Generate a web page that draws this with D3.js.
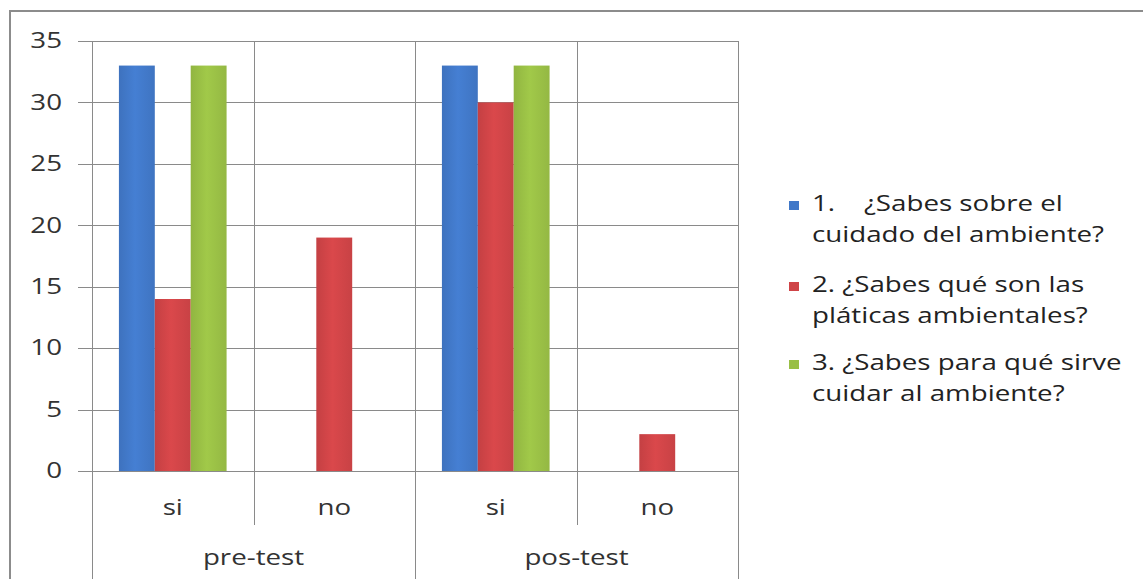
<!DOCTYPE html>
<html>
<head>
<meta charset="utf-8">
<script src="https://cdn.jsdelivr.net/npm/d3@7"></script>
<style>
  html, body { margin: 0; padding: 0; background: #fff; }
  svg { display: block; }
  text { font-family: "Open Sans", "DejaVu Sans", sans-serif; }
</style>
</head>
<body>
<svg id="chart" width="1143" height="579"></svg>
<script>
// Survey answers, grouped by test phase and answer
const phases = ["pre-test", "pos-test"];
const answers = ["si", "no"];
const questions = [
  "1.    ¿Sabes sobre el|cuidado del ambiente?",
  "2. ¿Sabes qué son las|pláticas ambientales?",
  "3. ¿Sabes para qué sirve|cuidar al ambiente?"
];
const q1Values = [33, 0, 33, 0];
const q2Values = [14, 19, 30, 3];
const q3Values = [33, 0, 33, 0];
const yTicks = [0, 5, 10, 15, 20, 25, 30, 35];
const colors = ["#4178c8", "#cf4447", "#99bf45"];

const seriesValues = [q1Values, q2Values, q3Values];
const cells = [];
phases.forEach(p => answers.forEach(a => cells.push(p + "|" + a)));

const svg = d3.select("#chart");
const plot = { left: 92, right: 738, top: 41, bottom: 471 };
const fontSize = 21;
const stretch = 1.32; // wide lettering

// Places a horizontally widened label at (x, y)
function label(parent, x, y, anchor, fill) {
  return parent.append("g")
    .attr("transform", `translate(${x},${y}) scale(${stretch},1)`)
    .append("text")
    .attr("text-anchor", anchor)
    .attr("font-size", fontSize)
    .attr("fill", fill);
}

// Outer frame
svg.append("path")
  .attr("d", "M10,579 L10,11 L1143,11")
  .attr("fill", "none").attr("stroke", "#8c8c8c").attr("stroke-width", 2);

const x0 = d3.scaleBand().domain(cells).range([plot.left, plot.right]).padding(0);
const x1 = d3.scaleBand().domain(d3.range(questions.length))
  .range([0, x0.bandwidth()]).paddingInner(0).paddingOuter(0.75);
const y = d3.scaleLinear().domain([0, 35]).range([plot.bottom, plot.top]);
const xPhase = d3.scaleBand().domain(phases).range([plot.left, plot.right]);

const grid = "#8a8a8a";

// Horizontal gridlines with tick stubs
svg.append("g")
  .selectAll("line").data(yTicks).join("line")
  .attr("x1", 78).attr("x2", plot.right)
  .attr("y1", d => Math.round(y(d)) + 0.5).attr("y2", d => Math.round(y(d)) + 0.5)
  .attr("stroke", grid).attr("stroke-width", 1);

// Vertical separators: answer dividers stop above the phase row
const answerDividers = cells.filter(c => c.endsWith("|no")).map(c => x0(c));
const phaseDividers = [plot.left, xPhase("pos-test"), plot.right];
svg.append("g").selectAll("line").data(phaseDividers).join("line")
  .attr("x1", d => Math.round(d) + 0.5).attr("x2", d => Math.round(d) + 0.5)
  .attr("y1", plot.top).attr("y2", 579)
  .attr("stroke", grid);
svg.append("g").selectAll("line").data(answerDividers).join("line")
  .attr("x1", d => Math.round(d) + 0.5).attr("x2", d => Math.round(d) + 0.5)
  .attr("y1", plot.top).attr("y2", 525)
  .attr("stroke", grid);

// Bar gradients give each column a slight sheen
const defs = svg.append("defs");
colors.forEach((c, i) => {
  const g = defs.append("linearGradient").attr("id", "g" + i)
    .attr("x1", 0).attr("x2", 1).attr("y1", 0).attr("y2", 0);
  g.append("stop").attr("offset", "0%").attr("stop-color", d3.color(c).darker(0.15));
  g.append("stop").attr("offset", "45%").attr("stop-color", d3.color(c).brighter(0.15));
  g.append("stop").attr("offset", "100%").attr("stop-color", d3.color(c).darker(0.1));
});

// Bars
const barData = [];
seriesValues.forEach((vals, si) => vals.forEach((v, ci) => {
  if (v > 0) barData.push({ s: si, cell: cells[ci], v });
}));
svg.append("g").selectAll("rect").data(barData).join("rect")
  .attr("x", d => x0(d.cell) + x1(d.s))
  .attr("width", x1.bandwidth())
  .attr("y", d => y(d.v))
  .attr("height", d => y(0) - y(d.v))
  .attr("fill", d => "url(#g" + d.s + ")");

// Y axis labels
const yAxis = svg.append("g");
yTicks.forEach(d => {
  label(yAxis, 62, y(d), "end", "#333").attr("dy", "0.35em").text(d);
});

// Answer labels
const ansG = svg.append("g");
cells.forEach(c => {
  label(ansG, x0(c) + x0.bandwidth() / 2, 515, "middle", "#333").text(c.split("|")[1]);
});

// Phase labels
const phaseG = svg.append("g");
phases.forEach(p => {
  label(phaseG, xPhase(p) + xPhase.bandwidth() / 2, 565, "middle", "#333").text(p);
});

// Legend
const legendTop = [211, 292, 370];
const legend = svg.append("g");
questions.forEach((q, i) => {
  const lines = q.split("|");
  legend.append("rect")
    .attr("x", 789).attr("y", legendTop[i] - 10)
    .attr("width", 10).attr("height", 9)
    .attr("fill", colors[i]);
  const t = label(legend, 812, legendTop[i], "start", "#222")
    .attr("xml:space", "preserve");
  lines.forEach((l, j) => {
    t.append("tspan").attr("x", 0).attr("dy", j === 0 ? 0 : 31).text(l);
  });
});
</script>
</body>
</html>
